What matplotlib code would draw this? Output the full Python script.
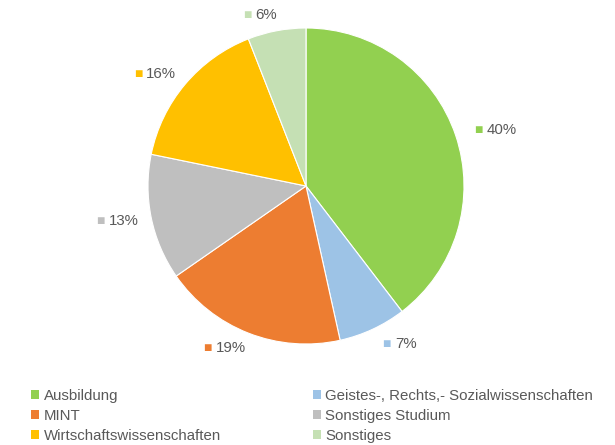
import numpy as np
import matplotlib.pyplot as plt
from matplotlib.patches import Patch
from matplotlib.offsetbox import TextArea, HPacker, AnnotationBbox

plt.rcParams['font.family'] = ['Liberation Sans', 'DejaVu Sans']

categories = ["Ausbildung", "Geistes-, Rechts,- Sozialwissenschaften", "MINT",
              "Sonstiges Studium", "Wirtschaftswissenschaften", "Sonstiges"]
values = [40, 7, 19, 13, 16, 6]
colors = ["#92D050", "#9DC3E6", "#ED7D31", "#BFBFBF", "#FFC000", "#C5E0B4"]
text_color = "#595959"

W, H = 615, 445
fig = plt.figure(figsize=(W / 100, H / 100), dpi=100)
cx, cy, r = 306, 186, 158
ax = fig.add_axes([(cx - r) / W, (H - cy - r) / H, 2 * r / W, 2 * r / H])

wedges, _ = ax.pie(values, colors=colors, startangle=90, counterclock=False,
                   radius=1, wedgeprops=dict(edgecolor="white", linewidth=0.8))
ax.set_xlim(-1, 1)
ax.set_ylim(-1, 1)
ax.set_aspect("auto")

# data labels just outside each wedge, left/right aligned depending on side
for w, v, c in zip(wedges, values, colors):
    ang = np.deg2rad((w.theta1 + w.theta2) / 2)
    ca, sa = np.cos(ang), np.sin(ang)
    box = HPacker(children=[TextArea("■", textprops=dict(color=c, fontsize=10)),
                            TextArea(f"{v}%", textprops=dict(color=text_color, fontsize=10.8))],
                  align="center", pad=0, sep=3)
    ab = AnnotationBbox(box, (1.1 * ca + 0.02, 1.1 * sa), frameon=False, annotation_clip=False,
                        box_alignment=(0 if ca > 0 else 1, 0.5))
    ax.add_artist(ab)

order = [0, 2, 4, 1, 3, 5]
handles = [Patch(facecolor=colors[i], edgecolor="none") for i in order]
labels = [categories[i] for i in order]
fig.legend(handles, labels, loc="upper left", bbox_to_anchor=(31 / W, 1 - 389 / H),
           ncol=2, frameon=False, fontsize=10.8, labelcolor=text_color,
           handlelength=0.55, handleheight=0.55, handletextpad=0.3,
           columnspacing=6.1, labelspacing=0.4, borderaxespad=0, borderpad=0)

fig.savefig("out.png", dpi=100)
